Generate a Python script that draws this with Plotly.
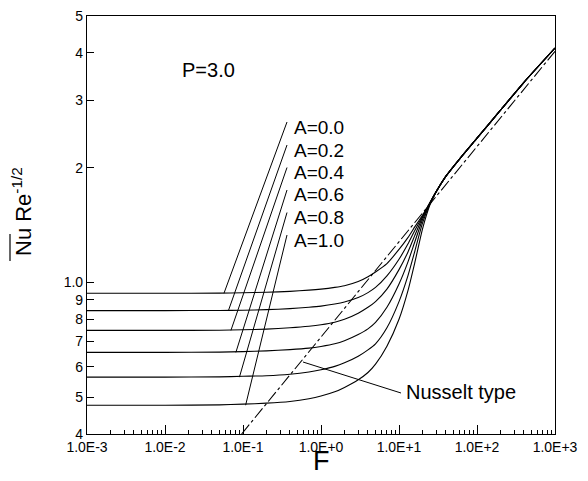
import plotly.graph_objects as go
import math

# ---------------- data ----------------
F = [0.001, 0.01, 0.05, 0.1, 0.2, 0.4, 0.7, 1, 1.5, 2, 3, 4, 5, 7, 10, 13, 16, 20, 25,
     30, 40, 60, 100, 200, 400, 1000]

upper = [1.73, 1.90, 2.11, 2.39, 2.83, 3.35, 4.12]   # common branch for F = 30 ... 1000

nu_A00 = [0.936, 0.936, 0.937, 0.939, 0.942, 0.947, 0.954, 0.960, 0.970, 0.980, 1.005, 1.035,
          1.065, 1.12, 1.22, 1.31, 1.40, 1.50, 1.62] + upper
nu_A02 = [0.843, 0.843, 0.844, 0.845, 0.848, 0.853, 0.860, 0.866, 0.877, 0.888, 0.912, 0.94,
          0.97, 1.04, 1.15, 1.26, 1.37, 1.49, 1.62] + upper
nu_A04 = [0.748, 0.748, 0.749, 0.751, 0.754, 0.760, 0.767, 0.774, 0.786, 0.800, 0.83, 0.86,
          0.89, 0.96, 1.08, 1.20, 1.33, 1.48, 1.62] + upper
nu_A06 = [0.655, 0.655, 0.656, 0.658, 0.661, 0.666, 0.672, 0.679, 0.690, 0.703, 0.73, 0.755,
          0.785, 0.86, 0.99, 1.13, 1.28, 1.46, 1.61] + upper
nu_A08 = [0.564, 0.564, 0.565, 0.567, 0.569, 0.574, 0.582, 0.590, 0.602, 0.615, 0.64, 0.665,
          0.69, 0.76, 0.89, 1.04, 1.21, 1.43, 1.61] + upper
nu_A10 = [0.476, 0.476, 0.477, 0.479, 0.482, 0.487, 0.495, 0.503, 0.516, 0.530, 0.555, 0.58,
          0.61, 0.68, 0.80, 0.95, 1.13, 1.38, 1.60] + upper

series = [nu_A00, nu_A02, nu_A04, nu_A06, nu_A08, nu_A10]
labels = ["A=0.0", "A=0.2", "A=0.4", "A=0.6", "A=0.8", "A=1.0"]
label_F = [0.057, 0.065, 0.070, 0.081, 0.090, 0.108]   # where each label's leader meets its curve

nusselt_F = [0.096, 1000]
nusselt_y = [0.40, 4.04]

x_tickvals = [1e-3, 1e-2, 1e-1, 1e0, 1e1, 1e2, 1e3]
x_ticktext = ["1.0E-3", "1.0E-2", "1.0E-1", "1.0E+0", "1.0E+1", "1.0E+2", "1.0E+3"]
y_tickvals = [0.4, 0.5, 0.6, 0.7, 0.8, 0.9, 1.0, 2, 3, 4, 5]
y_ticktext = ["4", "5", "6", "7", "8", "9", "1.0", "2", "3", "4", "5"]

# ---------------- figure ----------------
FONT = "Arial, Liberation Sans, Helvetica, sans-serif"
PAGE_OFF = 8                      # default body margin of the html page
W, H = 588, 481                   # window size
ML, MR, MT, MB = 87, 33, 16, 47   # plot-area position in window pixels
PW, PH = W - ML - MR, H - MT - MB
XR = (-3, 3)
YR = (math.log10(0.4), math.log10(5))


def px2F(px):
    return 10 ** (XR[0] + (px - ML) / PW * (XR[1] - XR[0]))


def py2y(py):
    return 10 ** (YR[0] + (MT + PH - py) / PH * (YR[1] - YR[0]))


def pxp(px):
    return (px - ML) / PW


def pyp(py):
    return (MT + PH - py) / PH


fig = go.Figure()
for s in series:
    fig.add_trace(go.Scatter(x=F, y=s, mode="lines",
                             line=dict(color="black", width=1.1, shape="spline", smoothing=0.6),
                             showlegend=False, hoverinfo="skip"))

fig.add_trace(go.Scatter(x=nusselt_F, y=nusselt_y, mode="lines",
                         line=dict(color="black", width=1.1, dash="12px,3px,3px,3px"),
                         showlegend=False, hoverinfo="skip"))

shapes = []
annotations = []
label_py = [127, 150, 172.5, 195, 217.5, 240]
for i, lab in enumerate(labels):
    top_py = label_py[i] - 5
    shapes.append(dict(type="line", xref="x", yref="y",
                       x0=label_F[i], y0=series[i][0],
                       x1=px2F(287), y1=py2y(top_py),
                       line=dict(color="black", width=1)))
    annotations.append(dict(x=pxp(292), y=pyp(label_py[i]), xref="paper", yref="paper",
                            text=lab, showarrow=False, xanchor="left", yanchor="middle",
                            font=dict(family=FONT, size=19, color="black")))

# Nusselt type leader
shapes.append(dict(type="line", xref="x", yref="y",
                   x0=px2F(303), y0=py2y(362), x1=px2F(401), y1=py2y(393),
                   line=dict(color="black", width=1)))
annotations.append(dict(x=pxp(404), y=pyp(392), xref="paper", yref="paper",
                        text="Nusselt type", showarrow=False, xanchor="left", yanchor="middle",
                        font=dict(family=FONT, size=20, color="black")))
annotations.append(dict(x=pxp(208), y=pyp(70), xref="paper", yref="paper",
                        text="P=3.0", showarrow=False, xanchor="center", yanchor="middle",
                        font=dict(family=FONT, size=20, color="black")))
# axis titles
annotations.append(dict(x=pxp(321), y=pyp(461), xref="paper", yref="paper",
                        text="F", showarrow=False, xanchor="center", yanchor="middle",
                        font=dict(family=FONT, size=27, color="black")))
annotations.append(dict(x=pxp(22), y=pyp(212), xref="paper", yref="paper",
                        text="Nu Re<sup>-1/2</sup>", showarrow=False, textangle=-90,
                        xanchor="center", yanchor="middle",
                        font=dict(family=FONT, size=22, color="black")))
# overline above "Nu"
shapes.append(dict(type="line", xref="paper", yref="paper",
                   x0=pxp(10), x1=pxp(10), y0=pyp(261), y1=pyp(234),
                   line=dict(color="black", width=1.2)))

minor_x = [m * 10 ** e for e in range(-3, 3) for m in range(2, 10)]

fig.update_layout(
    width=W - PAGE_OFF, height=H - PAGE_OFF,
    margin=dict(l=ML - PAGE_OFF, r=MR, t=MT - PAGE_OFF, b=MB, autoexpand=False),
    paper_bgcolor="white", plot_bgcolor="white",
    font=dict(family=FONT, size=14, color="black"),
    shapes=shapes, annotations=annotations,
    xaxis=dict(type="log", range=list(XR), tickvals=x_tickvals, ticktext=x_ticktext,
               ticks="inside", ticklen=9, tickwidth=1, tickcolor="black",
               showline=True, linecolor="black", linewidth=1.2, mirror=True,
               showgrid=False, zeroline=False, automargin=False, ticklabeloverflow="allow",
               minor=dict(tickvals=minor_x, ticks="inside", ticklen=4, tickcolor="black",
                          showgrid=False),
               tickfont=dict(family=FONT, size=14, color="black")),
    yaxis=dict(type="log", range=[YR[0], YR[1] + 1e-9], tickvals=y_tickvals, ticktext=y_ticktext,
               ticks="inside", ticklen=7, tickwidth=1, tickcolor="black",
               showline=True, linecolor="black", linewidth=1.2, mirror=True,
               showgrid=False, zeroline=False, automargin=False, ticklabeloverflow="allow",
               tickfont=dict(family=FONT, size=14, color="black")),
)

fig.write_html("out.html")
